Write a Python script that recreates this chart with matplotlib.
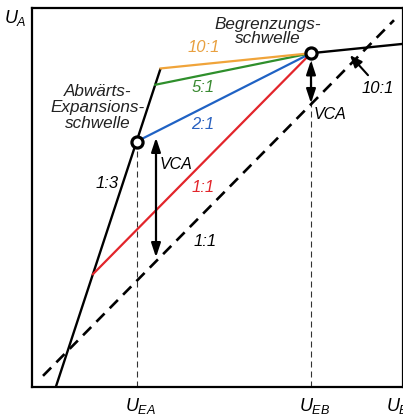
import matplotlib
matplotlib.use("Agg")
import matplotlib.pyplot as plt
import numpy as np

plt.rcParams["font.family"] = ["Liberation Sans", "DejaVu Sans"]
plt.rcParams["font.style"] = "italic"
plt.rcParams["mathtext.fontset"] = "custom"
plt.rcParams["mathtext.it"] = "Liberation Sans:italic"
plt.rcParams["mathtext.rm"] = "Liberation Sans:italic"

# Level ranges (arbitrary units) of input U_E and output U_A
x_max, y_max = 371, 374

# Downward expansion 1:3 below U_EA
expansion_slope = 3.0
expansion_x0 = 23.8

# Limiter threshold U_EB and the ratio above it
limit_point = (279, 329.4)
limit_ratio = 10

# Compression ratios between the two thresholds
ratios = [1, 2, 5, 10]
ratio_labels = ["1:1", "2:1", "5:1", "10:1"]
ratio_colors = ["#e2252b", "#1f62c4", "#2f8f2c", "#f0a43a"]
ratio_text_colors = ["#e2252b", "#2a62c0", "#3a8a32", "#e8a040"]
ratio_label_pos = [(171, 197), (171, 259), (171, 296), (172, 335)]

# Unity-gain reference line
unity_range = (11, 362)

# VCA gain shift arrows: (x, y_bottom, y_top)
vca_low = (124, 128, 246)
vca_high = (279, 280, 322.5)


def compression_line(r, x):
    lx, ly = limit_point
    return ly - (lx - x) / r


def knee_x(r):
    lx, ly = limit_point
    s = expansion_slope
    return (ly - lx / r + s * expansion_x0) / (s - 1.0 / r)


fig = plt.figure(figsize=(4.03, 4.16), dpi=100)
ax = fig.add_axes([32 / 403, 29 / 416, 371 / 403, 379 / 416])
ax.set_xlim(0, x_max)
ax.set_ylim(0, y_max)
ax.set_xticks([])
ax.set_yticks([])
for sp in ax.spines.values():
    sp.set_linewidth(1.6)
    sp.set_color("black")

# Unity gain 1:1 dashed line
ux = np.array(unity_range)
ax.plot(ux, ux, color="black", lw=1.9, linestyle=(0, (4.4, 2.8)), zorder=2)

# Expansion line 1:3 up to the steepest compression knee
x_top = knee_x(max(ratios))
ex = np.array([expansion_x0, x_top])
ax.plot(ex, expansion_slope * (ex - expansion_x0), color="black", lw=1.7, zorder=3,
        solid_capstyle="butt")

# Compression characteristics
for r, c in zip(ratios, ratio_colors):
    xs = np.array([knee_x(r), limit_point[0]])
    ax.plot(xs, compression_line(r, xs), color=c, lw=1.6, zorder=4)

# Limiter section above U_EB
lx_arr = np.array([limit_point[0], x_max])
ax.plot(lx_arr, limit_point[1] + (lx_arr - limit_point[0]) / limit_ratio,
        color="black", lw=1.7, zorder=4)

# Threshold markers and their input-level guides
x_ea = knee_x(2)
y_ea = compression_line(2, x_ea)
for xv, yv in [(x_ea, y_ea), limit_point]:
    ax.plot([xv, xv], [0, yv], color="#333333", lw=0.8,
            linestyle=(0, (5.4, 3.6)), zorder=1)
    ax.plot(xv, yv, marker="o", ms=8, mfc="white", mec="black", mew=2.3, zorder=6)

# VCA arrows
for vx, vb, vt in [vca_low, vca_high]:
    ax.annotate("", xy=(vx, vt), xytext=(vx, vb),
                arrowprops=dict(arrowstyle="<|-|>,head_length=0.6,head_width=0.2",
                                mutation_scale=14, lw=1.6, color="black",
                                shrinkA=0, shrinkB=0), zorder=5)
ax.text(144, 220, "VCA", fontsize=11.5, ha="center", va="center")
ax.text(298, 269, "VCA", fontsize=11.5, ha="center", va="center")

# Pointer to the 10:1 limiter section
ax.annotate("", xy=(318, 327.4), xytext=(336, 307.7),
            arrowprops=dict(arrowstyle="-|>,head_length=0.6,head_width=0.25",
                            mutation_scale=12, lw=1.5, color="black",
                            shrinkA=0, shrinkB=0), zorder=5)
ax.text(346, 295, "10:1", fontsize=12, ha="center", va="center")

# Ratio labels
for lab, col, (tx, ty) in zip(ratio_labels, ratio_text_colors, ratio_label_pos):
    ax.text(tx, ty, lab, color=col, fontsize=12, ha="center", va="center")
ax.text(173, 144, "1:1", fontsize=12, ha="center", va="center")
ax.text(75, 201, "1:3", fontsize=12, ha="center", va="center")

# Threshold names
ax.text(66, 276, "Abwärts-\nExpansions-\nschwelle", fontsize=12.3, ha="center",
        va="center", linespacing=1.08, color="#222222")
ax.text(236, 351, "Begrenzungs-\nschwelle", fontsize=12.3, ha="center",
        va="center", linespacing=0.95, color="#222222")

# Axis names
ax.text(-17, 364, r"$U_A$", fontsize=13, ha="center", va="center", clip_on=False)
for xv, lab, dx in [(x_ea, r"$U_{EA}$", 3), (limit_point[0], r"$U_{EB}$", 3),
                    (x_max, r"$U_E$", -4)]:
    ax.annotate(lab, xy=(xv, 0), xytext=(dx, -13.5), textcoords="offset points",
                fontsize=13, ha="center", va="center", annotation_clip=False)

fig.savefig("out.png", dpi=100)
